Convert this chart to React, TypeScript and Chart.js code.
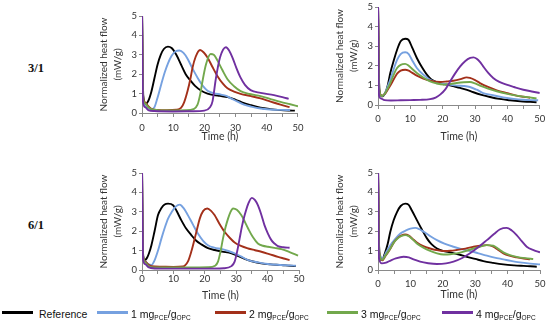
import React, { useEffect, useRef } from 'react';
import { Chart, registerables } from 'chart.js';

Chart.register(...registerables);

type Pt = [number, number];

// ---------- data (time h, normalized heat flow mW/g) ----------
// Row 3/1, left panel
const A_REF: Pt[] = [[0,5.3],[0.4,0.9],[1.2,0.48],[2,0.62],[3,1.1],[4,1.8],[5,2.5],[6,3.0],[7,3.3],[8.3,3.42],[9.5,3.35],[11,3.0],[12.5,2.5],[14,2.0],[15.5,1.68],[17,1.4],[19,1.15],[21,1.0],[23,0.92],[25,0.88],[27.5,0.82],[30,0.68],[32,0.55],[35,0.4],[38,0.27],[41,0.2],[44.5,0.15],[47,0.13],[49,0.12]];
const A_1: Pt[] = [[0,5.3],[0.4,0.7],[1.5,0.3],[3,0.18],[4,0.3],[5,0.8],[6.2,1.5],[7.3,2.1],[8.3,2.55],[9.5,2.95],[10.8,3.18],[12,3.22],[13.3,3.1],[14.6,2.8],[16,2.35],[17.8,1.82],[19.5,1.4],[21,1.15],[23,1.02],[25.3,0.95],[27,0.88],[28.5,0.75],[30.5,0.6],[32.7,0.43],[35,0.33],[38,0.23],[41,0.18],[44.4,0.16],[47.5,0.15]];
const A_2: Pt[] = [[0,5.3],[0.4,0.75],[1,0.55],[2,0.35],[3,0.22],[5,0.16],[8,0.15],[11,0.17],[12.5,0.26],[13.5,0.55],[14.6,1.13],[15.5,1.75],[16.2,2.34],[17.2,2.9],[18.6,3.25],[19.8,3.12],[21,2.86],[22.5,2.4],[24.2,1.9],[26,1.5],[27.4,1.27],[29.5,1.1],[31.6,0.99],[35,0.87],[38,0.75],[41,0.6],[44.4,0.43],[47.3,0.3]];
const A_3: Pt[] = [[0,5.3],[0.4,0.7],[1,0.5],[2,0.3],[3,0.2],[5,0.15],[10,0.13],[14,0.14],[16.5,0.2],[17.8,0.43],[18.7,1.0],[19.4,1.65],[20.5,2.5],[22,3.04],[23,3.0],[24.2,2.7],[25.8,2.2],[27.4,1.74],[29.5,1.38],[31.6,1.13],[34.5,0.98],[38,0.87],[41,0.73],[44.4,0.57],[47.5,0.45],[50,0.35]];
const A_4: Pt[] = [[0,5.3],[0.3,0.6],[1,0.3],[2,0.15],[4,0.1],[10,0.08],[16,0.09],[20,0.12],[21.8,0.3],[22.6,0.6],[23.7,1.8],[25,2.86],[26.9,3.39],[28,3.2],[29,2.86],[30.3,2.3],[31.6,1.82],[33,1.45],[34.8,1.18],[38,1.04],[42.3,0.92],[45,0.82],[47,0.73]];

// Row 3/1, right panel
const B_REF: Pt[] = [[0,5.3],[0.4,0.8],[1.2,0.44],[2.2,0.6],[3,1.0],[3.8,1.63],[5,2.35],[5.9,2.82],[7,3.25],[8.4,3.38],[9.4,3.33],[10.5,2.95],[12,2.4],[13.5,1.95],[15.1,1.55],[16.5,1.3],[18.2,1.16],[20,1.07],[21.3,1.04],[23.5,0.95],[25.4,0.87],[27.5,0.77],[29.5,0.65],[32,0.52],[34.6,0.41],[37.5,0.31],[40.8,0.24],[44,0.19],[47,0.16],[49,0.14]];
const B_1: Pt[] = [[0,5.3],[0.4,0.8],[1.2,0.44],[2.2,0.6],[3,0.95],[3.8,1.3],[5,1.9],[5.9,2.3],[7,2.6],[8.4,2.69],[9.5,2.6],[10.5,2.3],[12,1.89],[14,1.55],[16.1,1.29],[19.2,1.12],[21.5,1.05],[24.3,0.99],[26.5,0.97],[28.4,0.92],[30.5,0.78],[32.5,0.61],[35.5,0.5],[38.7,0.39],[42,0.31],[44.9,0.27],[47.5,0.25],[49.5,0.24]];
const B_2: Pt[] = [[0,5.3],[0.4,0.8],[1.2,0.47],[2.2,0.58],[3,0.78],[3.8,0.99],[5,1.35],[5.9,1.6],[7,1.75],[8.4,1.8],[9.5,1.75],[10.5,1.65],[12,1.5],[14,1.35],[16.1,1.24],[19.2,1.17],[21.3,1.2],[23.3,1.24],[25.5,1.32],[27.4,1.41],[28.4,1.38],[30,1.27],[31.5,1.12],[34,0.92],[36.7,0.75],[40,0.6],[42.8,0.48],[45,0.42],[47,0.37]];
const B_3: Pt[] = [[0,5.3],[0.4,0.8],[1.2,0.46],[2.2,0.6],[3,0.85],[3.8,1.12],[5,1.6],[5.9,1.89],[7,2.05],[8.4,2.1],[9.5,2.0],[10.5,1.85],[12,1.63],[14,1.4],[16.1,1.2],[18,1.1],[20.2,1.04],[22.3,1.07],[24.3,1.12],[26.5,1.16],[28.4,1.17],[30,1.1],[31.5,0.99],[34,0.84],[36.7,0.7],[40,0.57],[42.8,0.48],[46,0.4],[49,0.34]];
const B_4: Pt[] = [[0,5.3],[0.3,0.5],[0.8,0.34],[2,0.25],[4,0.23],[7,0.24],[10,0.25],[13,0.26],[16.1,0.3],[17.8,0.38],[19.2,0.53],[20.8,0.8],[22.3,1.2],[23.8,1.6],[25.4,1.97],[27,2.25],[28.5,2.4],[29.5,2.43],[30.5,2.36],[31.5,2.2],[32.5,1.97],[34,1.65],[35.6,1.38],[37.5,1.18],[39.7,1.04],[42,0.92],[44.9,0.78],[47.5,0.69],[50,0.61]];

// Row 6/1, left panel
const C_REF: Pt[] = [[0,5.3],[0.3,0.9],[0.8,0.51],[1.5,0.6],[2.2,0.85],[3,1.28],[4,2.0],[5.1,2.83],[6.2,3.2],[7.2,3.38],[8.3,3.42],[9.9,3.34],[11,3.05],[12.5,2.57],[14,2.15],[15.7,1.8],[17.2,1.52],[18.9,1.32],[21,1.13],[23.1,1.03],[25.5,0.95],[28.5,0.86],[30.5,0.73],[32.7,0.57],[35,0.45],[38,0.34],[41,0.29],[44.4,0.26],[47,0.22],[49,0.2]];
const C_1: Pt[] = [[0,5.3],[0.3,0.8],[1,0.45],[2,0.3],[3,0.26],[4,0.5],[5,0.95],[6.2,1.63],[7.3,2.2],[8.3,2.65],[9.5,3.0],[10.8,3.28],[12,3.37],[13.2,3.2],[14.6,2.83],[16.2,2.35],[17.8,1.88],[19.4,1.52],[21,1.28],[23,1.15],[25.3,1.08],[27.5,0.98],[29.5,0.86],[31.5,0.7],[33.8,0.51],[37,0.39],[40.1,0.31],[44,0.26],[47,0.23],[49,0.22]];
const C_2: Pt[] = [[0,5.3],[0.3,0.8],[1,0.45],[2,0.28],[3,0.19],[6,0.17],[10,0.16],[13,0.18],[14.6,0.43],[15.7,0.95],[16.8,1.63],[17.6,2.15],[18.4,2.65],[19.5,3.05],[20.8,3.17],[22,3.05],[23.1,2.83],[24.6,2.4],[26.3,1.97],[28,1.65],[29.5,1.42],[31.5,1.24],[33.8,1.11],[36,1.02],[38,0.94],[40.5,0.82],[43.3,0.68],[45.5,0.58],[47,0.51]];
const C_3: Pt[] = [[0,5.3],[0.3,0.8],[1,0.4],[2,0.22],[3,0.15],[8,0.13],[15,0.13],[21,0.14],[23.3,0.22],[24.2,0.43],[25,0.95],[25.8,1.63],[26.6,2.2],[27.4,2.65],[28.2,3.0],[29,3.17],[30.2,3.1],[31.6,2.83],[32.7,2.5],[33.8,2.14],[35.3,1.7],[36.9,1.37],[38.5,1.25],[40.1,1.2],[42.2,1.14],[44.4,1.08],[47,0.92],[49.7,0.74]];
const C_4: Pt[] = [[0,5.3],[0.3,0.6],[1,0.3],[2,0.15],[4,0.08],[10,0.07],[20,0.07],[26,0.09],[28.5,0.2],[29.5,0.43],[30.3,0.95],[31.1,1.63],[31.9,2.3],[32.7,2.83],[33.8,3.4],[35,3.72],[36,3.6],[36.9,3.34],[38,2.85],[39,2.31],[40.1,1.88],[41.2,1.54],[42.3,1.35],[43.3,1.23],[45,1.17],[47,1.15]];

// Row 6/1, right panel
const D_REF: Pt[] = [[0,5.3],[0.4,0.9],[1.2,0.51],[2.2,0.9],[3,1.35],[3.8,1.97],[4.8,2.55],[5.9,3.0],[7,3.3],[8.4,3.42],[9.4,3.37],[10.5,3.05],[12,2.57],[13.5,2.1],[15.1,1.63],[16.5,1.33],[18.2,1.11],[20,0.99],[22.3,0.91],[25,0.8],[27.4,0.68],[30,0.57],[32.5,0.46],[35.5,0.37],[38.7,0.29],[42,0.24],[44.9,0.21],[47,0.19],[49,0.17]];
const D_1: Pt[] = [[0,5.3],[0.4,0.9],[1.5,0.6],[2.5,0.9],[3.8,1.28],[5.3,1.6],[6.9,1.88],[8.5,2.03],[10,2.13],[11.5,2.17],[12.8,2.1],[14.1,1.97],[16,1.76],[18.2,1.54],[20.5,1.36],[23.3,1.2],[25.8,1.08],[28.4,0.98],[31,0.86],[33.6,0.74],[36,0.64],[38.7,0.55],[41,0.47],[43.8,0.39],[47,0.33],[50,0.29]];
const D_2: Pt[] = [[0,5.3],[0.4,0.9],[1.3,0.5],[2.3,0.72],[3.8,1.1],[5,1.45],[6.2,1.67],[7.3,1.79],[8.4,1.83],[9.5,1.77],[10.7,1.6],[12,1.42],[14,1.23],[16.1,1.11],[18,1.03],[20.2,0.98],[22.3,0.99],[24.3,1.03],[27,1.1],[29.5,1.2],[31.5,1.25],[33.6,1.28],[35.6,1.2],[37,1.05],[38.7,0.86],[40.5,0.74],[42.8,0.65],[45,0.59],[46.9,0.55]];
const D_3: Pt[] = [[0,5.3],[0.4,0.9],[1.3,0.52],[2.3,0.75],[3.8,1.11],[5,1.45],[6.2,1.65],[7.3,1.76],[8.4,1.8],[9.5,1.75],[10.7,1.58],[12,1.37],[14,1.15],[16.1,0.98],[18,0.87],[20.2,0.8],[22.3,0.81],[24.3,0.86],[27,0.97],[29.5,1.11],[31.5,1.2],[33.6,1.28],[35.6,1.25],[37,1.1],[38.7,0.91],[40.5,0.78],[42.8,0.68],[45.5,0.61],[47.9,0.57]];
const D_4: Pt[] = [[0,5.3],[0.3,0.6],[1.2,0.34],[2.5,0.38],[4,0.5],[5.5,0.6],[7.9,0.68],[9.5,0.65],[11,0.55],[13,0.43],[15.5,0.35],[18.2,0.31],[21,0.34],[23.3,0.43],[26,0.62],[28.4,0.86],[31,1.18],[33.6,1.54],[35.8,1.85],[37.7,2.1],[39.7,2.17],[41.2,2.05],[42.8,1.8],[44.3,1.5],[45.9,1.2],[48,1.02],[50,0.91]];

const SERIES_LABELS = ['Reference', '1', '2', '3', '4'];
const SERIES_COLORS = ['#000000', '#76a1e0', '#a3301a', '#72a84c', '#7030a0'];
const ROW_LABELS = ['3/1', '6/1'];
const Y_TITLE = ['Normalized heat flow', '(mW/g)'];
const X_TITLE = 'Time (h)';
const X_MIN = 0, X_MAX = 50, X_STEP = 5, X_LABEL_STEP = 10;
const Y_MIN = 0, Y_MAX = 5, Y_STEP = 1;

// ---------- layout ----------
type Area = { l: number; t: number; r: number; b: number };
type PanelCfg = { area: Area; series: Pt[][]; tickPad: number; titleCenter: number };

const PANELS: PanelCfg[] = [
  { area: { l: 142, t: 16, r: 299, b: 113 }, series: [A_REF, A_1, A_2, A_3, A_4], tickPad: 5.5, titleCenter: 24 },
  { area: { l: 378, t: 7, r: 540, b: 105 }, series: [B_REF, B_1, B_2, B_3, B_4], tickPad: 4.7, titleCenter: 31.4 },
  { area: { l: 142, t: 173, r: 299, b: 270 }, series: [C_REF, C_1, C_2, C_3, C_4], tickPad: -1, titleCenter: 25.5 },
  { area: { l: 378, t: 173, r: 540, b: 270 }, series: [D_REF, D_1, D_2, D_3, D_4], tickPad: 4.3, titleCenter: 24.5 },
];

const YW = 48, PT = 8, PR = 10, XH = 40;
const AXIS_COLOR = '#8a8a8a';
const TEXT_COLOR = '#333333';

function Panel({ cfg }: { cfg: PanelCfg }) {
  const ref = useRef<HTMLCanvasElement | null>(null);
  const { area } = cfg;
  const w = area.r - area.l + YW + PR;
  const h = area.b - area.t + PT + XH;

  useEffect(() => {
    if (!ref.current) return;
    const xTitleFont = 10.5;
    const xTitleLH = xTitleFont * 1.2;
    const chart = new Chart(ref.current, {
      type: 'line',
      data: {
        datasets: cfg.series.map((s, i) => ({
          label: SERIES_LABELS[i],
          data: s.map(([x, y]) => ({ x, y })),
          borderColor: SERIES_COLORS[i],
          backgroundColor: SERIES_COLORS[i],
          borderWidth: 1.9,
          pointRadius: 0,
          fill: false,
          cubicInterpolationMode: 'monotone' as const,
          order: SERIES_LABELS.length - 1 - i,
        })),
      },
      options: {
        responsive: false,
        maintainAspectRatio: false,
        animation: false,
        events: [],
        layout: { padding: { left: 0, top: PT, right: PR, bottom: 0 } },
        plugins: { legend: { display: false }, tooltip: { enabled: false } },
        scales: {
          x: {
            type: 'linear',
            min: X_MIN,
            max: X_MAX,
            ticks: {
              stepSize: X_STEP,
              autoSkip: false,
              maxRotation: 0,
              padding: cfg.tickPad,
              color: TEXT_COLOR,
              font: { family: 'Lato', size: 9.5 },
              callback: (v: any) => (Number(v) % X_LABEL_STEP === 0 ? String(v) : ''),
            },
            grid: { drawOnChartArea: false, drawTicks: true, tickLength: 4, color: AXIS_COLOR },
            border: { display: true, color: AXIS_COLOR, width: 1 },
            title: {
              display: true,
              text: X_TITLE,
              color: TEXT_COLOR,
              font: { family: 'Lato', size: xTitleFont, lineHeight: 1.2 },
              padding: { top: 0, bottom: XH - xTitleLH / 2 - cfg.titleCenter },
            },
            afterFit: (s: any) => { s.height = XH; },
          },
          y: {
            type: 'linear',
            min: Y_MIN,
            max: Y_MAX,
            ticks: {
              stepSize: Y_STEP,
              padding: 2,
              color: TEXT_COLOR,
              font: { family: 'Lato', size: 9.5 },
            },
            grid: { drawOnChartArea: false, drawTicks: true, tickLength: 3, color: AXIS_COLOR },
            border: { display: true, color: AXIS_COLOR, width: 1 },
            title: {
              display: true,
              text: Y_TITLE,
              color: TEXT_COLOR,
              font: { family: 'Lato', size: 10, lineHeight: 1.4 },
              padding: { top: 3, bottom: 0 },
            },
            afterFit: (s: any) => { s.width = YW; },
          },
        },
      } as any,
    });
    return () => chart.destroy();
  }, []);

  return (
    <canvas
      ref={ref}
      width={w}
      height={h}
      style={{ position: 'absolute', left: area.l - YW, top: area.t - PT, width: w, height: h }}
    />
  );
}

const LEGEND_LEFT = [2, 97, 215, 327, 442];

function LegendText({ i }: { i: number }) {
  const subStyle: React.CSSProperties = { fontSize: 6.5, position: 'relative', top: 2 };
  if (i === 0) return <span>{SERIES_LABELS[0]}</span>;
  return (
    <span>
      {SERIES_LABELS[i]} mg<span style={subStyle}>PCE</span>/g<span style={subStyle}>OPC</span>
    </span>
  );
}

export default function App() {
  return (
    <div style={{ position: 'absolute', left: 0, top: 0, width: 550, height: 329, background: '#fff', overflow: 'hidden' }}>
      {PANELS.map((p, i) => <Panel key={i} cfg={p} />)}
      {ROW_LABELS.map((t, i) => (
        <div
          key={t}
          style={{
            position: 'absolute', left: 28, top: i === 0 ? 60 : 217,
            fontFamily: '"Liberation Serif", serif', fontWeight: 'bold', fontSize: 12.5, lineHeight: '16px', color: '#111',
          }}
        >{t}</div>
      ))}
      {SERIES_LABELS.map((_, i) => (
        <div
          key={i}
          style={{
            position: 'absolute', left: LEGEND_LEFT[i], top: 306, height: 16,
            display: 'flex', alignItems: 'center', whiteSpace: 'nowrap',
            fontFamily: '"Liberation Sans", Arial, sans-serif', fontSize: 10.5, color: '#111',
          }}
        >
          <div style={{ width: 31, height: 3, background: SERIES_COLORS[i], marginRight: i === 0 ? 6 : 3, marginTop: -3 }} />
          <LegendText i={i} />
        </div>
      ))}
    </div>
  );
}
